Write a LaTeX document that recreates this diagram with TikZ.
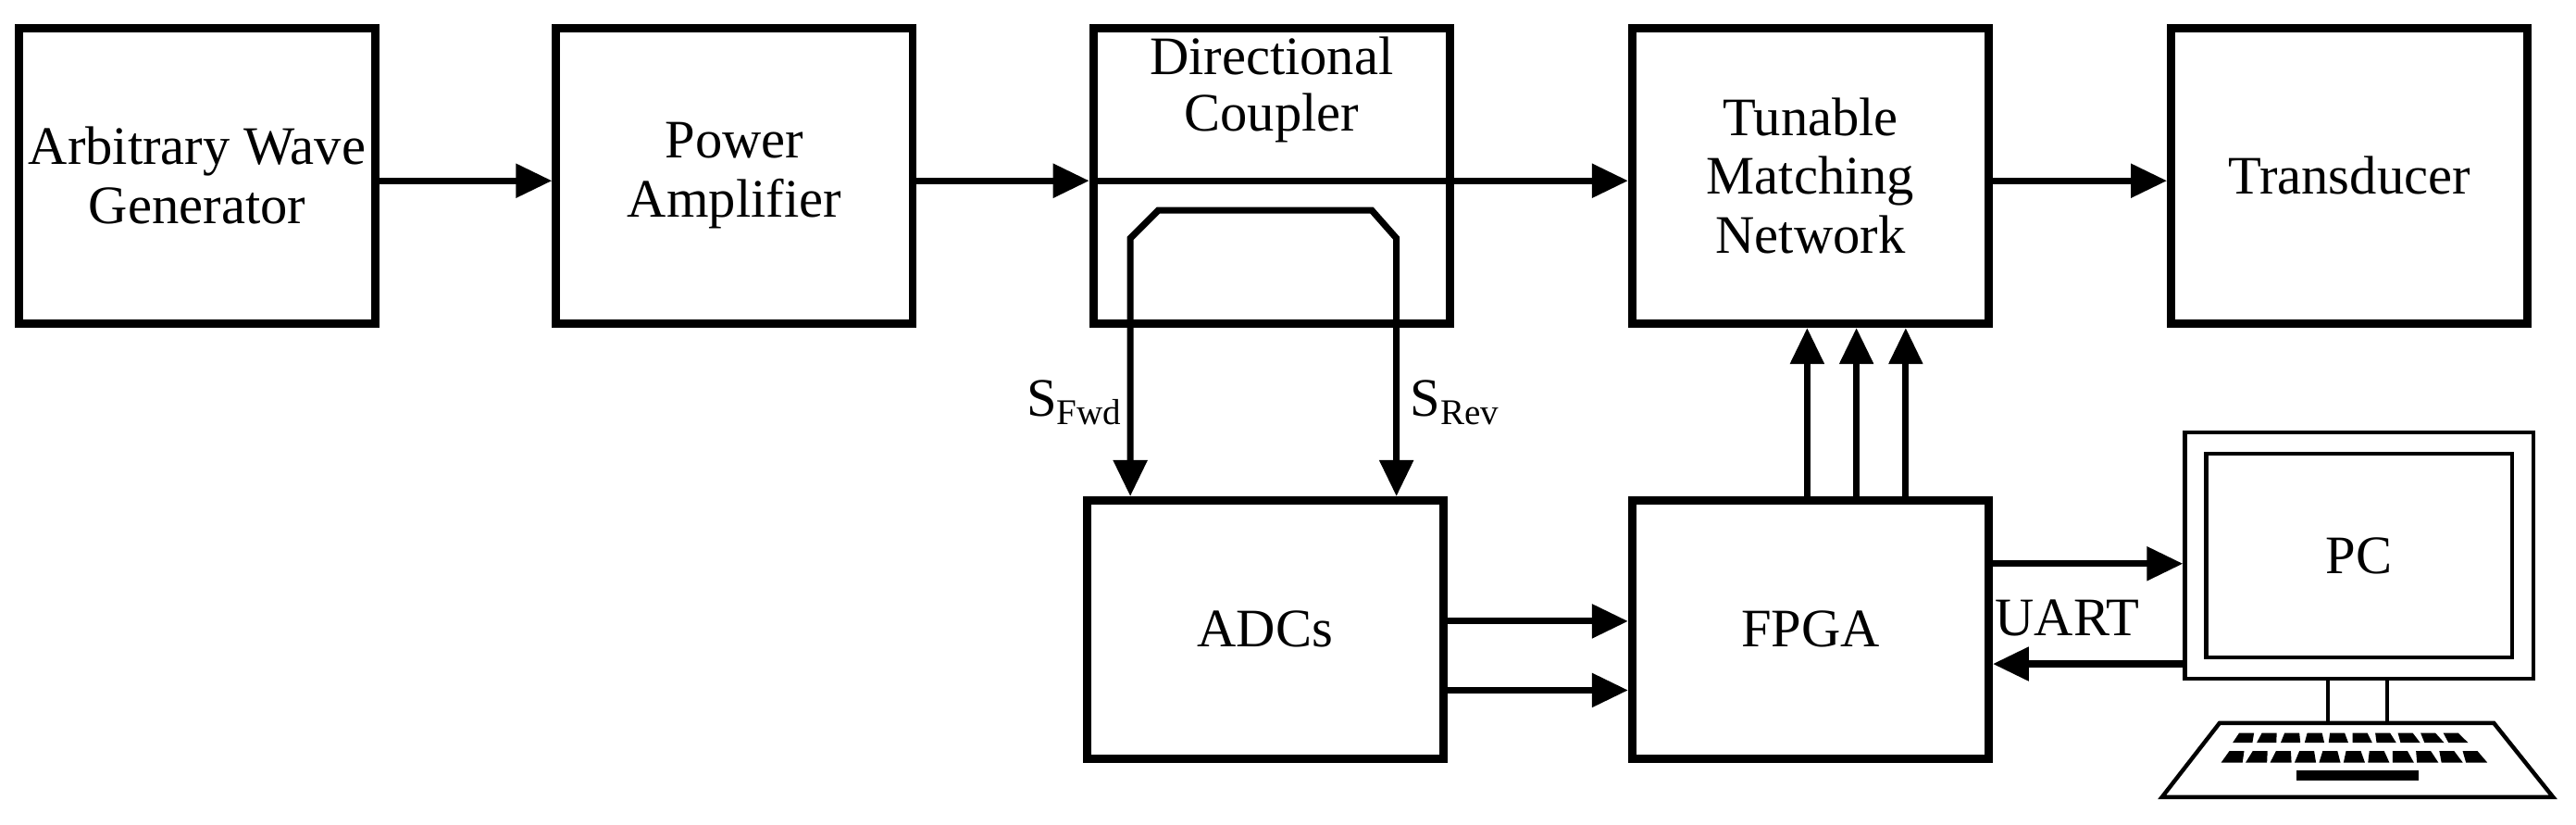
\documentclass[tikz,border=0pt]{standalone}
\usepackage{fontspec}
\setmainfont{Liberation Serif}
\usetikzlibrary{positioning,arrows.meta}

\begin{document}
\begin{tikzpicture}[x=1pt,y=-1pt]

% Define styles
\tikzstyle{block} = [rectangle, draw=black, line width=5pt, minimum width=217pt, minimum height=180pt, align=center, inner sep=0pt, font=\fontsize{33}{36}\selectfont]
\tikzstyle{sig} = [line width=4pt, -{Triangle[length=22pt,width=20pt]}]
\tikzstyle{pcline} = [line width=2.5pt]
\tikzstyle{lbl} = [font=\fontsize{33}{36}\selectfont, align=center]

\useasboundingbox (0,0) rectangle (1568,502);

% Main blocks
\node [block] (awg) at (120,107) {Arbitrary Wave\\Generator};
\node [block] (pa) at (447,107) {Power\\Amplifier};
\node [block] (dc) at (774,107) {};
\node [lbl, anchor=north, inner sep=0pt] at ([yshift=-8pt]dc.north) {Directional\\[-2pt]Coupler};
\node [block] (tmn) at (1102,107) {Tunable\\Matching\\Network};
\node [block] (tr) at (1430,107) {Transducer};
\node [block, minimum height=157pt] (adc) at (770,383) {ADCs};
\node [block, minimum height=157pt] (fpga) at (1102,383) {FPGA};

% PC drawing
\node [draw, pcline, minimum width=212pt, minimum height=150pt, inner sep=0pt] (mon) at (1436,338) {};
\node [draw, pcline, minimum width=186pt, minimum height=124pt, inner sep=0pt, lbl] (scr) at (1436,338) {PC};
\coordinate (stl) at (1417,413);
\coordinate (str) at (1453,413);
\draw [pcline] (stl) -- (1417,440) (str) -- (1453,440);
\draw [pcline] (1351,440) -- (1518,440) -- (1554,485) -- (1316,485) -- cycle;
\foreach \i in {0,...,9}
  \fill ({1363+\i*13.8},446) -- ({1372+\i*13.8},446) -- ({1371+\i*14.6},452) -- ({1359+\i*14.6},452) -- cycle;
\foreach \i in {0,...,10}
  \fill ({1357+\i*14.2},457) -- ({1366+\i*14.2},457) -- ({1365+\i*14.9},464) -- ({1352+\i*14.9},464) -- cycle;
\fill (1398,469) rectangle (1472,475);

% Main signal path
\draw [sig] (awg.east |- 0,110) -- (pa.west |- 0,110);
\draw [sig] (pa.east |- 0,110) -- (dc.west |- 0,110);
\draw [sig] (dc.west |- 0,110) -- (tmn.west |- 0,110);
\draw [sig] (tmn.east |- 0,110) -- (tr.west |- 0,110);

% Coupled paths
\draw [sig, {Triangle[length=22pt,width=20pt]}-{Triangle[length=22pt,width=20pt]}] (850,302) -- (850,145) -- (835,128) -- (705,128) -- (688,145) -- (688,302);
\node [lbl, anchor=east] (sfwd) at (686,245) {S\raisebox{-0.35ex}{\fontsize{22}{22}\selectfont Fwd}};
\node [lbl, anchor=west] (srev) at (855,245) {S\raisebox{-0.35ex}{\fontsize{22}{22}\selectfont Rev}};

% ADCs to FPGA
\draw [sig] (adc.east |- 0,378) -- (fpga.west |- 0,378);
\draw [sig] (adc.east |- 0,420) -- (fpga.west |- 0,420);

% FPGA to matching network
\foreach \x in {1100,1130,1160}
  \draw [sig] (fpga.north -| \x,0) -- (tmn.south -| \x,0);

% UART
\draw [sig] (fpga.east |- 0,343) -- (mon.west |- 0,343);
\draw [sig] (mon.west |- 0,404) -- (fpga.east |- 0,404);
\node [lbl, anchor=west] (uart) at (1211,376) {UART};

\end{tikzpicture}
\end{document}
